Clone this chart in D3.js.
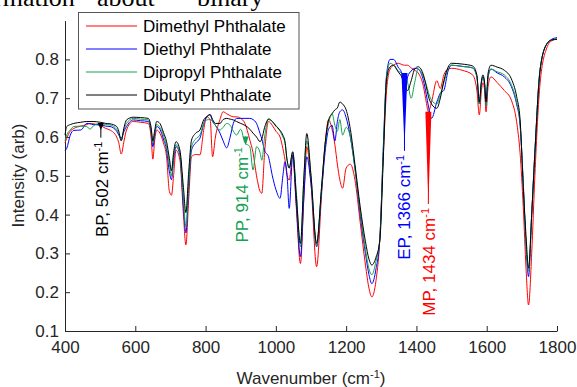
<!DOCTYPE html>
<html>
<head>
<meta charset="utf-8">
<script src="https://cdn.jsdelivr.net/npm/d3@7"></script>
<style>
  body { margin: 0; background: #fff; }
  text { font-family: "Liberation Sans", Arial, Helvetica, sans-serif; }
</style>
</head>
<body>
<div id="chart"></div>
<script>
// wavenumber grid shared by all four spectra (cm^-1)
var wavenumbers = [400,405,415,425,445,462,471,480,500,516,
  528,547,553,560,568,575,594,615,637,645,
  650,655,661,670,680,689,697,703,709,716,
  727,737,744,752,760,772,784,795,803,813,
  820,828,841,850,860,870,879,888,900,912,
  926,935,945,955,960,968,979,990,1000,1012,
  1020,1026,1032,1038,1048,1058,1070,1080,1088,1100,
  1116,1130,1140,1150,1160,1168,1175,1182,1190,1200,
  1212,1225,1240,1255,1265,1273,1285,1296,1306,1315,
  1325,1335,1348,1358,1366,1375,1385,1395,1405,1420,
  1428,1434,1443,1458,1468,1478,1490,1500,1530,1560,
  1572,1579,1585,1589,1594,1598,1604,1612,1630,1650,
  1670,1685,1695,1704,1712,1719,1728,1737,1752,1771,
  1785,1800];

// intensities
var dimethyl = [0.585,0.597,0.615,0.622,0.628,0.632,0.635,0.634,0.630,0.622,
  0.618,0.600,0.585,0.556,0.590,0.618,0.640,0.638,0.635,0.600,
  0.543,0.590,0.618,0.610,0.585,0.549,0.460,0.450,0.500,0.566,
  0.541,0.400,0.322,0.440,0.549,0.555,0.554,0.620,0.652,0.645,
  0.549,0.600,0.645,0.665,0.660,0.655,0.652,0.652,0.648,0.635,
  0.592,0.560,0.500,0.460,0.455,0.560,0.640,0.630,0.615,0.600,
  0.570,0.541,0.500,0.489,0.554,0.420,0.274,0.450,0.575,0.480,
  0.266,0.450,0.580,0.644,0.620,0.580,0.530,0.490,0.468,0.520,
  0.530,0.490,0.380,0.270,0.210,0.188,0.230,0.340,0.560,0.720,
  0.775,0.785,0.790,0.787,0.785,0.785,0.778,0.772,0.765,0.730,
  0.690,0.665,0.690,0.745,0.725,0.760,0.775,0.777,0.772,0.760,
  0.720,0.657,0.720,0.740,0.720,0.665,0.730,0.755,0.740,0.720,
  0.695,0.640,0.558,0.420,0.260,0.167,0.300,0.500,0.740,0.830,
  0.848,0.852];

var diethyl = [0.565,0.571,0.605,0.617,0.618,0.635,0.634,0.632,0.631,0.628,
  0.627,0.615,0.605,0.597,0.615,0.627,0.644,0.642,0.640,0.615,
  0.575,0.605,0.627,0.620,0.595,0.566,0.510,0.490,0.540,0.575,
  0.554,0.420,0.353,0.470,0.566,0.585,0.597,0.635,0.652,0.657,
  0.640,0.630,0.610,0.590,0.572,0.600,0.635,0.648,0.648,0.648,
  0.648,0.645,0.635,0.609,0.595,0.565,0.549,0.500,0.465,0.442,
  0.500,0.536,0.500,0.416,0.554,0.430,0.292,0.450,0.549,0.480,
  0.317,0.460,0.560,0.620,0.630,0.590,0.640,0.665,0.670,0.650,
  0.600,0.520,0.400,0.300,0.245,0.222,0.260,0.340,0.580,0.760,
  0.800,0.800,0.780,0.765,0.700,0.755,0.770,0.777,0.775,0.745,
  0.710,0.680,0.648,0.690,0.713,0.720,0.770,0.785,0.782,0.778,
  0.755,0.685,0.740,0.755,0.735,0.680,0.755,0.775,0.765,0.755,
  0.730,0.685,0.630,0.480,0.320,0.240,0.400,0.560,0.775,0.840,
  0.852,0.856];

var dipropyl = [0.590,0.605,0.618,0.627,0.628,0.627,0.620,0.628,0.635,0.632,
  0.631,0.620,0.608,0.592,0.620,0.635,0.648,0.646,0.644,0.620,
  0.585,0.610,0.632,0.625,0.605,0.575,0.530,0.500,0.550,0.580,
  0.558,0.440,0.369,0.480,0.575,0.595,0.605,0.635,0.644,0.645,
  0.640,0.630,0.618,0.625,0.635,0.630,0.615,0.605,0.620,0.585,
  0.575,0.515,0.575,0.560,0.540,0.600,0.648,0.640,0.630,0.615,
  0.600,0.585,0.540,0.520,0.560,0.460,0.317,0.500,0.590,0.500,
  0.320,0.470,0.580,0.635,0.660,0.630,0.615,0.645,0.605,0.625,
  0.600,0.520,0.410,0.310,0.260,0.245,0.280,0.340,0.570,0.755,
  0.790,0.785,0.770,0.765,0.760,0.740,0.700,0.740,0.775,0.755,
  0.735,0.715,0.695,0.685,0.710,0.740,0.775,0.785,0.782,0.778,
  0.755,0.685,0.740,0.755,0.735,0.680,0.755,0.775,0.768,0.760,
  0.735,0.690,0.635,0.480,0.320,0.255,0.400,0.560,0.775,0.840,
  0.850,0.853];

var dibutyl = [0.605,0.627,0.632,0.635,0.638,0.640,0.640,0.640,0.638,0.635,
  0.634,0.627,0.615,0.590,0.625,0.644,0.651,0.650,0.648,0.625,
  0.590,0.615,0.640,0.635,0.612,0.588,0.545,0.513,0.560,0.588,
  0.566,0.470,0.405,0.510,0.592,0.610,0.618,0.645,0.652,0.658,
  0.645,0.635,0.635,0.645,0.648,0.646,0.644,0.640,0.635,0.630,
  0.620,0.610,0.600,0.588,0.595,0.625,0.645,0.640,0.628,0.617,
  0.605,0.588,0.540,0.520,0.562,0.450,0.326,0.500,0.609,0.500,
  0.326,0.470,0.580,0.644,0.660,0.670,0.675,0.690,0.685,0.670,
  0.620,0.530,0.420,0.330,0.285,0.270,0.290,0.335,0.550,0.747,
  0.781,0.785,0.768,0.755,0.735,0.720,0.745,0.775,0.781,0.760,
  0.730,0.705,0.685,0.674,0.700,0.745,0.780,0.790,0.788,0.783,
  0.760,0.690,0.745,0.760,0.740,0.690,0.765,0.785,0.780,0.772,
  0.750,0.705,0.644,0.472,0.343,0.262,0.400,0.558,0.773,0.840,
  0.850,0.852];

var seriesNames = ["Dimethyl Phthalate", "Diethyl Phthalate", "Dipropyl Phthalate", "Dibutyl Phthalate"];
var seriesValues = [dimethyl, diethyl, dipropyl, dibutyl];
var colors = ["#ff0000", "#0000ff", "#12a150", "#000000"];

var xTicks = [400, 600, 800, 1000, 1200, 1400, 1600, 1800];
var yTicks = [0.1, 0.2, 0.3, 0.4, 0.5, 0.6, 0.7, 0.8];

// peak markers: label, series, peak position, wedge top/tip, text top
var annoLabels = ["BP, 502 cm", "PP, 914 cm", "EP, 1366 cm", "MP, 1434 cm"];
var annoSeries = [3, 2, 1, 0];
var annoWn = [502, 914, 1366, 1434];
var annoTextWn = [504, 903, 1366, 1436];
var annoTop = [0.636, 0.601, 0.765, 0.665];
var annoTip = [0.618, 0.579, 0.574, 0.430];
var annoTextTop = [0.588, 0.574, 0.554, 0.417];

var W = 577, H = 387;

var svg = d3.select("#chart")
  .append("svg")
    .attr("width", W)
    .attr("height", H)
    .style("background", "#fff");

// text cut off at the top of the picture
var headWords = ["rmation", "about", "binary"];
var headX = [-6, 97, 197];
svg.selectAll(".head")
  .data(headWords)
  .enter().append("text")
    .attr("class", "head")
    .attr("x", function(d, i) { return headX[i]; })
    .attr("y", 6)
    .style("font-family", "'Liberation Serif', 'Times New Roman', serif")
    .style("font-size", "26px")
    .attr("fill", "#000")
    .text(function(d) { return d; });

var x = d3.scaleLinear().domain([400, 1800]).range([65, 557]);
var y = d3.scaleLinear().domain([0.1, 0.9]).range([331, 20.6]);

var axisColor = "#262626";

// x axis, ticks pointing inward
var xAxis = svg.append("g")
  .attr("transform", "translate(0,331)")
  .call(d3.axisBottom(x).tickValues(xTicks).tickSize(-5).tickSizeOuter(0).tickPadding(10)
    .tickFormat(d3.format("d")));

// y axis
var yAxis = svg.append("g")
  .attr("transform", "translate(65,0)")
  .call(d3.axisLeft(y).tickValues(yTicks).tickSize(-5).tickSizeOuter(0).tickPadding(6)
    .tickFormat(d3.format(".1f")));

[xAxis, yAxis].forEach(function(g) {
  g.select(".domain").attr("stroke", axisColor);
  g.selectAll(".tick line").attr("stroke", axisColor);
  g.selectAll(".tick text")
    .attr("fill", axisColor)
    .style("font-size", "17px")
    .style("font-family", "'Liberation Sans', Arial, sans-serif");
});

// axis titles
var xTitle = svg.append("text")
  .attr("x", 311)
  .attr("y", 384)
  .attr("text-anchor", "middle")
  .attr("fill", axisColor)
  .style("font-size", "17px");
xTitle.append("tspan").text("Wavenumber (cm");
xTitle.append("tspan").attr("baseline-shift", "super").style("font-size", "11px").text("-1");
xTitle.append("tspan").text(")");

svg.append("text")
  .attr("transform", "translate(24,175.5) rotate(-90)")
  .attr("text-anchor", "middle")
  .attr("fill", axisColor)
  .style("font-size", "17px")
  .text("Intensity (arb)");

// spectra
var line = d3.line()
  .x(function(d) { return x(d[0]); })
  .y(function(d) { return y(d[1]); })
  .curve(d3.curveMonotoneX);

seriesValues.forEach(function(vals, i) {
  var pts = wavenumbers.map(function(w, j) { return [w, vals[j]]; });
  svg.append("path")
    .datum(pts)
    .attr("fill", "none")
    .attr("stroke", colors[i])
    .attr("stroke-width", 1)
    .attr("d", line);
});

// peak annotations
annoLabels.forEach(function(lbl, i) {
  var c = colors[annoSeries[i]];
  var px = x(annoWn[i]);
  var yTop = y(annoTop[i]), yTip = y(annoTip[i]);
  svg.append("line")
    .attr("x1", px).attr("x2", px)
    .attr("y1", yTop).attr("y2", y(annoTextTop[i]) - 4)
    .attr("stroke", c)
    .attr("stroke-width", 1);
  svg.append("path")
    .attr("d", "M" + (px - 3) + "," + yTop + "L" + (px + 3) + "," + yTop + "L" + px + "," + yTip + "Z")
    .attr("fill", c);
  var t = svg.append("text")
    .attr("transform", "translate(" + (x(annoTextWn[i]) + 6) + "," + y(annoTextTop[i]) + ") rotate(-90)")
    .attr("text-anchor", "end")
    .attr("fill", c)
    .style("font-size", "17px");
  t.append("tspan").text(lbl);
  t.append("tspan").attr("baseline-shift", "super").style("font-size", "11px").text("-1");
});

// legend
var legend = svg.append("g");
legend.append("rect")
  .attr("x", 78.5).attr("y", 12.5)
  .attr("width", 220.5).attr("height", 96.5)
  .attr("fill", "#fff")
  .attr("stroke", "#555")
  .attr("stroke-width", 1);

seriesNames.forEach(function(name, i) {
  var ly = 26 + i * 23;
  legend.append("line")
    .attr("x1", 86).attr("x2", 137)
    .attr("y1", ly).attr("y2", ly)
    .attr("stroke", colors[i])
    .attr("stroke-width", 1);
  legend.append("text")
    .attr("x", 143)
    .attr("y", ly)
    .attr("dy", "0.36em")
    .attr("fill", "#000")
    .style("font-size", "17px")
    .text(name);
});
</script>
</body>
</html>
